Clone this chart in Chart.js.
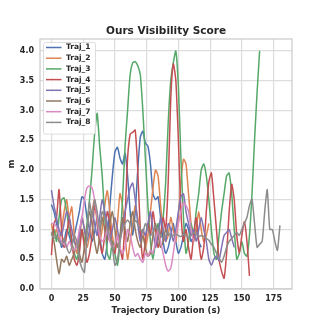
<!DOCTYPE html>
<html>
<head>
<meta charset="utf-8">
<script src="https://cdn.jsdelivr.net/npm/chart.js"></script>
<style>
  html, body { margin: 0; padding: 0; background: #fff; }
  #chart { display: block; }
</style>
</head>
<body>
<canvas id="chart" width="325" height="325"></canvas>
<script>
// sampled every 2 s
const step = 2;
const seriesNames = ["Traj_1", "Traj_2", "Traj_3", "Traj_4", "Traj_5", "Traj_6", "Traj_7", "Traj_8"];
const seriesColors = ["#4C72B0", "#DD8452", "#55A868", "#C44E52", "#8172B3", "#937860", "#DA8BC3", "#8C8C8C"];
const xTicks = [0, 25, 50, 75, 100, 125, 150, 175];

const traj1 = [1.42,1.3,1.1,0.9,0.7,0.8,1.0,0.9,0.75,0.9,1.1,1.3,1.55,1.5,1.2,1.0,0.8,0.95,1.2,0.9,
  0.6,0.5,0.8,1.4,1.9,2.3,2.38,2.2,2.1,2.28,1.9,1.3,0.9,1.3,2.0,2.55,2.65,2.45,2.4,2.1,
  1.6,1.5,1.55,1.2,0.8,0.6,0.7,0.9,1.1,0.8,0.6,0.7,0.9,1.1,1.0,0.8,0.9,1.0,0.8,0.7];
const traj2 = [1.1,0.9,1.0,0.8,1.0,1.3,1.5,1.2,1.38,0.9,0.6,0.8,1.2,1.0,0.7,0.9,1.3,1.5,1.1,0.8,
  1.0,1.4,1.65,1.3,0.9,0.7,1.1,1.6,1.4,0.9,0.5,0.8,1.1,1.4,1.2,0.9,1.0,0.7,0.9,1.3,
  1.7,2.0,1.9,1.4,1.0,0.8,0.9,1.2,1.0,0.8,1.2,1.8,2.18,2.1,1.6,1.1,0.8,1.0,1.3,1.0,
  0.8,0.9,1.1];
const traj3 = [0.9,1.0,0.8,1.2,1.5,1.53,1.3,1.0,0.8,0.6,0.5,0.7,1.0,0.8,1.1,1.5,2.0,2.6,2.95,2.4,
  1.9,1.2,0.6,0.5,0.8,0.6,0.4,0.8,1.5,2.4,3.0,3.6,3.8,3.82,3.75,3.6,3.0,2.2,1.4,0.8,
  0.5,0.8,1.1,0.9,1.2,1.8,2.8,3.5,3.8,4.0,3.4,2.2,1.2,0.6,0.8,1.1,0.9,1.3,1.6,2.0,
  2.1,1.9,1.5,1.0,0.6,0.5,0.9,1.3,1.6,1.9,1.95,1.6,1.0,0.5,0.6,0.8,0.6,0.55,0.9,1.6,
  2.5,3.3,4.0];
const traj4 = [0.57,1.1,1.2,1.67,1.0,0.7,0.9,1.2,0.8,0.5,0.4,0.6,1.0,0.7,0.45,0.6,0.9,1.4,1.2,0.8,
  0.6,0.9,1.3,1.1,0.7,0.6,0.9,0.7,0.5,1.2,2.2,2.6,2.63,2.67,2.0,1.0,0.5,0.8,1.1,0.9,
  1.3,1.0,0.7,0.9,1.2,1.0,1.8,3.2,3.78,3.5,2.5,1.3,0.8,1.0,0.7,0.5,0.9,1.2,0.8,0.5,
  0.7,1.3,1.8,1.95,1.5,1.0,0.5,0.3,0.18,0.6,1.3,1.76,1.5,0.9,0.6,0.9,1.13,0.8,0.22];
const traj5 = [1.66,1.4,1.2,1.0,0.9,1.1,1.3,1.2,1.0,0.8,0.7,0.9,1.2,1.0,0.8,1.0,1.3,1.1,0.9,1.2,
  1.5,1.3,1.1,0.8,1.0,1.2,1.0,0.8,1.1,1.3,1.5,1.7,1.78,1.5,1.1,0.8,1.0,0.9,1.1,1.3,
  1.0,0.7,0.9,1.2,1.0,0.8,1.1,1.0,0.8,1.0,1.3,1.55,1.6,1.3,1.1,0.9,1.0,0.8,1.0,1.2,
  1.0,0.8,0.5,0.4,0.5,0.55,0.48,0.7,0.9,0.95,1.0,0.85,0.7];
const traj6 = [0.95,0.8,0.5,0.25,0.5,0.45,0.55,0.4,0.5,0.6,0.8,0.6,0.45,0.7,1.0,1.3,1.1,0.8,0.6,0.9,
  1.2,1.0,0.8,1.1,1.3,1.0,0.7,0.9,1.2,1.0,0.8,1.1,1.3,1.0,0.8,0.7,0.9,0.7,0.55,0.6,
  0.9,1.1,0.9,0.7,0.8,1.0,0.9];
const traj7 = [1.1,1.1,1.05,0.9,0.8,0.75,0.7,0.8,0.7,0.65,0.75,1.0,1.2,1.5,1.7,1.73,1.7,1.5,1.2,0.9,
  0.8,0.85,1.0,0.8,0.7,0.75,0.9,0.7,0.6,0.7,1.0,0.9,0.7,0.55,0.6,0.5,0.45,0.6,0.55,0.65,
  0.6,0.8,1.0,0.8,0.6,0.4,0.3,0.35,0.6,0.9,1.1,1.3,1.45,1.4,1.3,1.0,0.8];
const traj8 = [0.95,0.85,0.9,0.8,0.75,0.85,0.7,0.6,0.7,0.9,0.8,0.5,0.35,0.28,0.9,1.46,1.2,1.5,1.3,1.0,
  1.3,1.2,1.0,0.9,0.7,0.4,0.5,0.8,1.0,1.1,1.16,1.1,1.05,1.15,1.1,1.0,0.95,1.1,1.0,0.9,
  0.95,1.05,1.0,0.9,0.85,0.9,0.95,0.88,0.9,0.92,0.9,0.88,0.92,0.9,0.87,0.9,0.95,0.92,0.88,0.9,
  0.88,0.85,0.82,0.75,0.7,0.6,0.52,0.45,0.55,0.7,0.8,0.85,0.9,0.95,0.9,1.0,1.1,1.2,1.4,1.51,
  1.1,0.7,0.75,0.8,1.3,1.67,1.0,1.0,0.8,0.65,1.07];

const seriesValues = [traj1, traj2, traj3, traj4, traj5, traj6, traj7, traj8];

const fontFamily = "'DejaVu Sans', sans-serif";
const textColor = "#262626";

const datasets = seriesNames.map((name, k) => ({
  label: name,
  data: seriesValues[k].map((v, i) => ({ x: i * step, y: v })),
  borderColor: seriesColors[k],
  backgroundColor: seriesColors[k],
  borderWidth: 1.5,
  pointRadius: 0,
  tension: 0.2,
  order: seriesNames.length - k
}));

// frame around the plot and legend box in the upper left corner
const framePlugin = {
  id: "frame",
  beforeDatasetsDraw(chart) {
    const { ctx, chartArea: a } = chart;
    ctx.save();
    ctx.strokeStyle = "#cccccc";
    ctx.lineWidth = 1.25;
    ctx.strokeRect(a.left, a.top, a.right - a.left, a.bottom - a.top);
    ctx.restore();
  },
  afterDraw(chart) {
    const { ctx, chartArea: a } = chart;
    const x0 = a.left + 3, y0 = a.top + 3;
    const rowH = 10.7, w = 52, h = 8 * rowH + 6;
    ctx.save();
    ctx.fillStyle = "rgba(255,255,255,0.85)";
    ctx.strokeStyle = "#dddddd";
    ctx.lineWidth = 1;
    ctx.beginPath();
    ctx.roundRect(x0 + 0.5, y0 + 0.5, w, h, 2);
    ctx.fill();
    ctx.stroke();
    ctx.font = "bold 7.5px " + fontFamily;
    ctx.textBaseline = "middle";
    ctx.fillStyle = textColor;
    chart.data.datasets.forEach((ds, i) => {
      const y = y0 + 5.5 + i * rowH;
      ctx.strokeStyle = ds.borderColor;
      ctx.lineWidth = 1.5;
      ctx.beginPath();
      ctx.moveTo(x0 + 3, y);
      ctx.lineTo(x0 + 18.5, y);
      ctx.stroke();
      ctx.fillText(ds.label, x0 + 23, y);
    });
    ctx.restore();
  }
};

new Chart(document.getElementById("chart"), {
  type: "line",
  data: { datasets },
  options: {
    responsive: false,
    animation: false,
    layout: { padding: { left: 7, right: 33, top: 0, bottom: 9 } },
    plugins: {
      legend: { display: false },
      tooltip: { enabled: false },
      title: {
        display: true,
        text: "Ours Visibility Score",
        fullSize: false,
        color: textColor,
        font: { family: fontFamily, size: 10.5, weight: "bold" },
        padding: { top: 24.5, bottom: 1.9 }
      }
    },
    scales: {
      x: {
        type: "linear",
        min: -9,
        max: 189.5,
        afterFit(scale) { scale.height = 27; },
        afterBuildTicks(scale) { scale.ticks = xTicks.map(v => ({ value: v })); },
        ticks: {
          color: textColor,
          padding: 5,
          maxRotation: 0,
          font: { family: fontFamily, size: 8, weight: "bold" }
        },
        grid: { color: "#dddddd", lineWidth: 1.2, drawTicks: false },
        border: { display: false },
        title: {
          display: true,
          text: "Trajectory Duration (s)",
          color: textColor,
          padding: 0,
          font: { family: fontFamily, size: 8.5, weight: "bold" }
        }
      },
      y: {
        min: 0,
        max: 4.2,
        afterFit(scale) { scale.width = 33; },
        ticks: {
          stepSize: 0.5,
          includeBounds: false,
          color: textColor,
          padding: 6,
          font: { family: fontFamily, size: 8, weight: "bold" },
          callback: v => v.toFixed(1)
        },
        grid: { color: "#dddddd", lineWidth: 1.2, drawTicks: false },
        border: { display: false },
        title: {
          display: true,
          text: "m",
          color: textColor,
          padding: 0,
          font: { family: fontFamily, size: 8.5, weight: "bold" }
        }
      }
    }
  },
  plugins: [framePlugin]
});
</script>
</body>
</html>
